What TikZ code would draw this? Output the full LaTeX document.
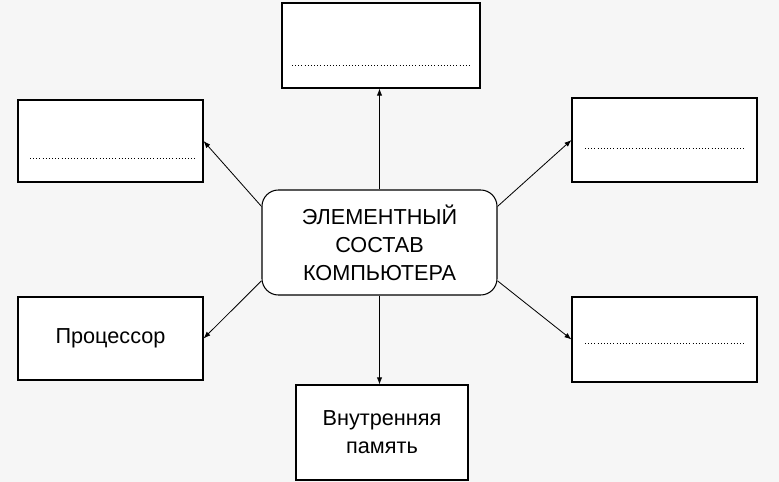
\documentclass[tikz,border=0pt]{standalone}
\usepackage{fontspec}
\setmainfont{Liberation Sans}
\usetikzlibrary{arrows.meta}
\begin{document}
\begin{tikzpicture}[x=0.03cm,y=-0.03cm,
  box/.style={draw,line width=0.9pt,fill=white,inner sep=0pt,align=center,font=\fontsize{18.5}{24}\selectfont},
  arr/.style={-{Latex[length=6pt,width=4.5pt]},line width=0.7pt},
  dl/.style={dotted,line width=0.7pt}]
\fill[gray!7] (0,0) rectangle (779,482);
\useasboundingbox (0,0) rectangle (779,482);
\node[box,minimum width=198*0.03cm,minimum height=85*0.03cm] (t) at (381,45.5) {};
\node[box,minimum width=185*0.03cm,minimum height=82*0.03cm] (lt) at (110.5,141) {};
\node[box,minimum width=185*0.03cm,minimum height=84*0.03cm] (rt) at (664.5,140) {};
\node[box,rounded corners=14pt,minimum width=235*0.03cm,minimum height=105*0.03cm] (c) at (379.5,242.5) {ЭЛЕМЕНТНЫЙ\\СОСТАВ\\КОМПЬЮТЕРА};
\node[box,minimum width=185*0.03cm,minimum height=83*0.03cm] (lb) at (110.5,338.5) {Процессор};
\node[box,minimum width=185*0.03cm,minimum height=85*0.03cm] (rb) at (664.5,339.5) {};
\node[box,minimum width=172*0.03cm,minimum height=95*0.03cm] (b) at (382,432.5) {Внутренняя\\память};
\coordinate (t1) at (292,65); \coordinate (t2) at (470,65);
\draw[dl] (t1) -- (t2);
\coordinate (l1) at (30,158); \coordinate (l2) at (195,158);
\draw[dl] (l1) -- (l2);
\coordinate (r1) at (585,148); \coordinate (r2) at (745,148);
\draw[dl] (r1) -- (r2);
\coordinate (s1) at (585,343); \coordinate (s2) at (745,343);
\draw[dl] (s1) -- (s2);
\draw[arr] (c.north) -- (c.north |- t.south);
\draw[arr] (c.south) -- (c.south |- b.north);
\draw[arr] (c.163) -- (lt.east);
\draw[arr] (c.17) -- (rt.west);
\draw[arr] (c.198) -- (lb.east);
\draw[arr] (c.342) -- (rb.west);
\end{tikzpicture}
\end{document}
